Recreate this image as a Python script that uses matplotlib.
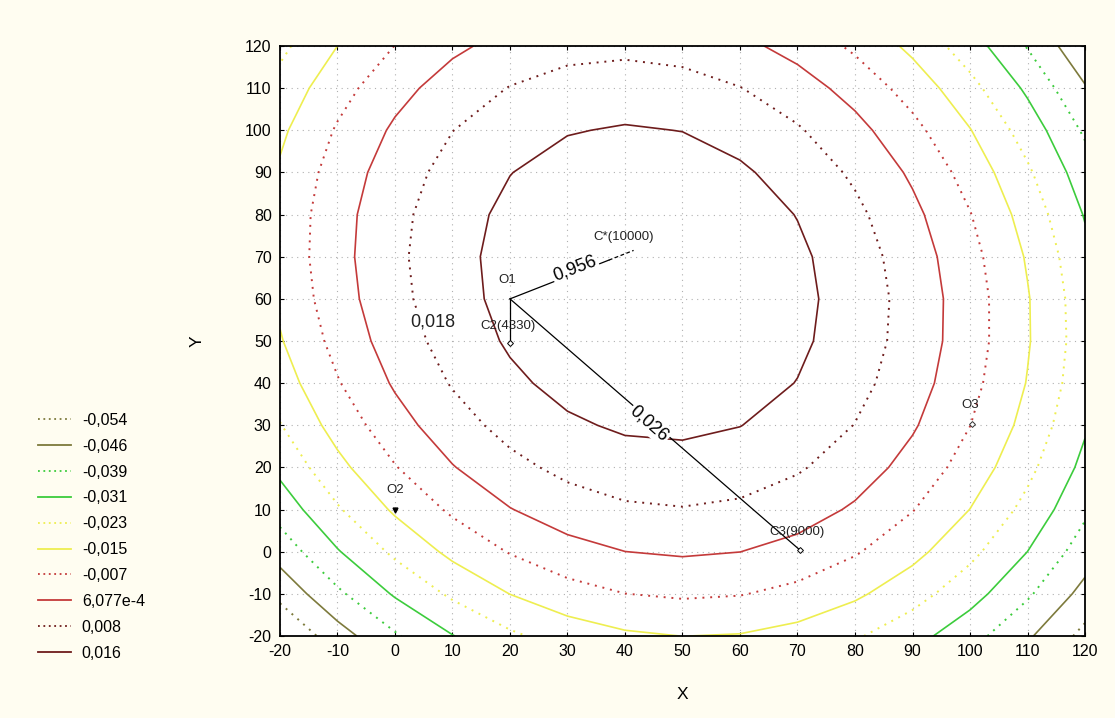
import numpy as np
import matplotlib.pyplot as plt
from matplotlib.lines import Line2D

plt.rcParams['font.family'] = ['Liberation Sans', 'DejaVu Sans']
plt.rcParams['axes.unicode_minus'] = False

levels = [-0.05434, -0.04649, -0.03864, -0.03079, -0.02294, -0.01509, -0.00724, 0.0006077, 0.00846, 0.01631]
level_labels = ['-0,054', '-0,046', '-0,039', '-0,031', '-0,023', '-0,015', '-0,007', '6,077e-4', '0,008', '0,016']
level_colors = ['#7d7a3c', '#7d7a3c', '#3ccc3c', '#3ccc3c', '#eeee50', '#eeee50', '#c43a3a', '#c43a3a', '#6e1c1c', '#6e1c1c']
level_styles = ['dot', 'solid'] * 5

# quadratic response surface z = c0 + c1 x + c2 y + c3 x^2 + c4 y^2 + c5 xy (estimated from the contours)
surf_coef = [-0.0213611, 0.000910483, 0.000799268, -9.05854e-06, -5.6718e-06, -1.7084e-06]
grid_x = [-20, -10, 0, 10, 20, 30, 40, 50, 60, 70, 80, 90, 100, 110, 120]
grid_y = [-20, -10, 0, 10, 20, 30, 40, 50, 60, 70, 80, 90, 100, 110, 120]

# points
o_names = ['O1', 'O2', 'O3']
o_x = [20, 0, 100.3]
o_y = [60, 10, 30.3]
c_names = ['C*(10000)', 'C2(4330)', 'C3(9000)']
c_x = [41.5, 20, 70.5]
c_y = [71.5, 49.5, 0.3]
vec_labels = ['0,956', '0,018', '0,026']

X, Y = np.meshgrid(grid_x, grid_y)
c = surf_coef
Z = c[0] + c[1] * X + c[2] * Y + c[3] * X ** 2 + c[4] * Y ** 2 + c[5] * X * Y

fig = plt.figure(figsize=(11.15, 7.18), dpi=100, facecolor='#fffdf1')
ax = fig.add_axes([0.2511, 0.1142, 0.722, 0.8217])
ax.set_facecolor('white')

dot = (0, (1, 3))
for lev, col, st in zip(levels, level_colors, level_styles):
    ax.contour(X, Y, Z, levels=[lev], colors=[col], linewidths=1.2 if st == 'solid' else 1.4,
               linestyles=['solid' if st == 'solid' else dot], zorder=2)

# vectors from O1 to the C points
ox, oy = o_x[0], o_y[0]
ax.plot([ox, ox + 0.8 * (c_x[0] - ox)], [oy, oy + 0.8 * (c_y[0] - oy)], color='black', lw=0.9, zorder=3)
ax.plot([ox + 0.8 * (c_x[0] - ox), c_x[0]], [oy + 0.8 * (c_y[0] - oy), c_y[0]], color='black', lw=0.9,
        linestyle=(0, (3, 2)), zorder=3)
ax.plot([ox, c_x[1]], [oy, c_y[1]], color='black', lw=0.9, zorder=3)
ax.plot([ox, c_x[2]], [oy, c_y[2]], color='black', lw=0.9, zorder=3)
ax.plot(c_x[1:], c_y[1:], linestyle='none', marker='D', ms=3, mfc='white', mec='black', mew=0.7, zorder=4)
ax.plot([o_x[1]], [o_y[1]], linestyle='none', marker='v', ms=3.5, color='black', zorder=4)
ax.plot([o_x[2]], [o_y[2]], linestyle='none', marker='D', ms=3, mfc='white', mec='#333333', mew=0.7, zorder=4)

box = dict(facecolor='white', edgecolor='none', pad=1)
ax.text(31.3, 67.3, vec_labels[0], fontsize=13, rotation=21, ha='center', va='center', bbox=box, zorder=5)
ax.text(6.6, 54.5, vec_labels[1], fontsize=13, ha='center', va='center', bbox=box, zorder=5, color='#222222')
ax.text(44.2, 30.3, vec_labels[2], fontsize=13, rotation=-41, ha='center', va='center', bbox=box, zorder=5)

ax.text(39.7, 74.7, c_names[0], fontsize=9.5, ha='center', va='center', color='#222222', zorder=6)
ax.text(19.7, 53.6, c_names[1], fontsize=9.5, ha='center', va='center', color='#222222', zorder=6)
ax.text(69.9, 4.7, c_names[2], fontsize=9.5, ha='center', va='center', color='#222222', zorder=6)
ax.text(19.5, 64.5, o_names[0], fontsize=9.5, ha='center', va='center', color='#222222', zorder=6)
ax.text(0, 14.6, o_names[1], fontsize=9.5, ha='center', va='center', color='#222222', zorder=6)
ax.text(100, 34.8, o_names[2], fontsize=9.5, ha='center', va='center', color='#222222', zorder=6)

ax.set_xlim(-20, 120)
ax.set_ylim(-20, 120)
ax.set_xticks(grid_x)
ax.set_yticks(grid_y)
ax.grid(True, color='#b0b0b0', linestyle=(0, (1, 4)), linewidth=0.8, zorder=1)
ax.set_axisbelow(True)
ax.tick_params(labelsize=11.5, length=3, top=True, right=True, direction='in', pad=6)
for s in ax.spines.values():
    s.set_linewidth(1.3)
ax.set_xlabel('X', fontsize=12.5, labelpad=20)
ax.set_ylabel('Y', fontsize=12.5, labelpad=29)

handles = [Line2D([], [], color=col, lw=1.3, linestyle='-' if s == 'solid' else (0, (1, 2)))
           for col, s in zip(level_colors, level_styles)]
fig.legend(handles, level_labels, loc='upper left', bbox_to_anchor=(0.034, 0.425), frameon=False,
           fontsize=11.5, handlelength=2.1, handletextpad=0.65, labelspacing=0.68, borderpad=0, borderaxespad=0)

plt.savefig('out.png', dpi=100, facecolor=fig.get_facecolor())
